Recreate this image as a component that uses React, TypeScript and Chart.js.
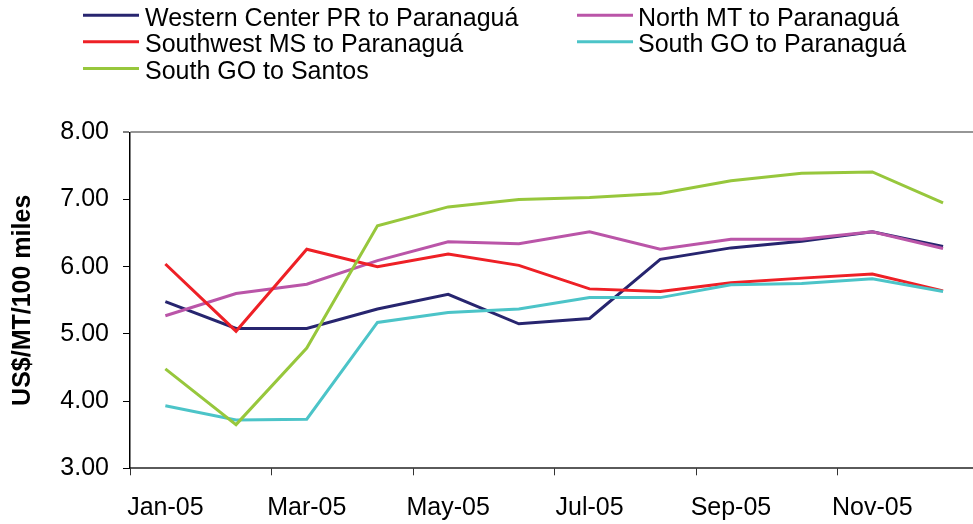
import React, { useEffect, useRef } from 'react';
import { Chart, registerables } from 'chart.js';

Chart.register(...registerables);

const months = ['Jan-05', 'Feb-05', 'Mar-05', 'Apr-05', 'May-05', 'Jun-05', 'Jul-05', 'Aug-05', 'Sep-05', 'Oct-05', 'Nov-05', 'Dec-05'];
const seriesNames = [
  'Western Center PR to Paranaguá',
  'North MT to Paranaguá',
  'Southwest MS to Paranaguá',
  'South GO to Paranaguá',
  'South GO to Santos',
];
const westernCenterPR = [5.48, 5.08, 5.08, 5.37, 5.59, 5.15, 5.23, 6.11, 6.28, 6.38, 6.52, 6.30];
const northMT = [5.27, 5.60, 5.74, 6.09, 6.37, 6.34, 6.52, 6.26, 6.41, 6.41, 6.52, 6.27];
const southwestMS = [6.04, 5.04, 6.26, 6.00, 6.19, 6.02, 5.67, 5.63, 5.76, 5.83, 5.89, 5.64];
const southGOParanagua = [3.93, 3.72, 3.73, 5.17, 5.32, 5.37, 5.54, 5.54, 5.73, 5.75, 5.82, 5.63];
const southGOSantos = [4.48, 3.65, 4.79, 6.61, 6.89, 7.00, 7.03, 7.09, 7.28, 7.39, 7.41, 6.95];
const yMin = 3;
const yMax = 8;
const yStep = 1;
const yTitle = 'US$/MT/100 miles';

const seriesValues = [westernCenterPR, northMT, southwestMS, southGOParanagua, southGOSantos];
const seriesColors = ['#27256F', '#BA55A8', '#EE2026', '#4CC4C8', '#97C73C'];

const FONT = "'Liberation Sans', Arial, sans-serif";

const legendPlugin = {
  id: 'customLegend',
  afterDraw(chart: any) {
    const ctx = chart.ctx;
    ctx.save();
    ctx.font = `25px ${FONT}`;
    ctx.fillStyle = '#000';
    ctx.textBaseline = 'alphabetic';
    ctx.textAlign = 'left';
    chart.data.datasets.forEach((ds: any, i: number) => {
      const col = i % 2;
      const row = Math.floor(i / 2);
      const lx0 = col ? 577 : 83;
      const lx1 = col ? 633 : 139;
      const tx = col ? 638 : 145;
      const base = 25.7 + row * 26.65;
      const ly = base - 10.5;
      ctx.strokeStyle = ds.borderColor;
      ctx.lineWidth = 3;
      ctx.beginPath();
      ctx.moveTo(lx0, ly);
      ctx.lineTo(lx1, ly);
      ctx.stroke();
      ctx.fillText(ds.label, tx, base);
    });
    ctx.restore();
  },
};

// tick marks every second category, placed on category boundaries (Excel style)
const xTickMarksPlugin = {
  id: 'xTickMarks',
  afterDraw(chart: any) {
    const xs = chart.scales.x;
    const ctx = chart.ctx;
    const n = chart.data.labels.length;
    const half = (xs.getPixelForValue(1) - xs.getPixelForValue(0)) / 2;
    const y0 = chart.chartArea.bottom;
    ctx.save();
    ctx.strokeStyle = '#333';
    ctx.lineWidth = 1;
    for (let i = 0; i < n; i += 2) {
      const x = Math.round(xs.getPixelForValue(i) - half) + 0.5;
      ctx.beginPath();
      ctx.moveTo(x, y0);
      ctx.lineTo(x, y0 + 7);
      ctx.stroke();
    }
    ctx.restore();
  },
};

export default function App() {
  const ref = useRef<HTMLCanvasElement | null>(null);

  useEffect(() => {
    if (!ref.current) return;
    const chart = new Chart(ref.current, {
      type: 'line',
      data: {
        labels: months,
        datasets: seriesNames.map((name, i) => ({
          label: name,
          data: seriesValues[i],
          borderColor: seriesColors[i],
          backgroundColor: seriesColors[i],
          borderWidth: 3,
          pointRadius: 0,
          tension: 0,
          fill: false,
          order: seriesNames.length - i,
        })),
      },
      options: {
        responsive: false,
        animation: false,
        layout: { padding: { top: 132.3, right: 1.6, bottom: 0, left: 0 } },
        plugins: {
          legend: { display: false },
          tooltip: { enabled: false },
        },
        scales: {
          x: {
            type: 'category',
            offset: true,
            grid: {
              drawOnChartArea: false,
              drawTicks: true,
              tickLength: 7,
              tickColor: 'rgba(0,0,0,0)',
              color: 'rgba(0,0,0,0)',
            },
            border: { display: true, color: '#5a5a5a', width: 2 },
            ticks: {
              autoSkip: false,
              maxRotation: 0,
              minRotation: 0,
              padding: 18,
              color: '#000',
              font: { family: FONT, size: 25 },
              callback: (_v: any, idx: number) => (idx % 2 === 0 ? months[idx] : ''),
            },
            afterFit: (s: any) => {
              s.height = 55.7;
            },
          },
          y: {
            min: yMin,
            max: yMax,
            grid: {
              drawOnChartArea: true,
              drawTicks: true,
              tickLength: 7,
              color: (c: any) => (c.tick && c.tick.value === yMax ? '#969696' : 'rgba(0,0,0,0)'),
              lineWidth: (c: any) => (c.tick && c.tick.value === yMax ? 2 : 1),
              tickColor: '#000',
              tickWidth: 1,
            },
            border: { display: true, color: '#000', width: 1.5 },
            ticks: {
              stepSize: yStep,
              padding: 14,
              color: '#000',
              font: { family: FONT, size: 25 },
              callback: (v: any) => Number(v).toFixed(2),
            },
            title: {
              display: true,
              text: yTitle,
              color: '#000',
              font: { family: FONT, size: 25, weight: 'bold' },
              padding: { top: 8, bottom: 0 },
            },
            afterFit: (s: any) => {
              s.width = 130;
            },
          },
        },
      },
      plugins: [legendPlugin, xTickMarksPlugin],
    } as any);
    return () => chart.destroy();
  }, []);

  return (
    <div style={{ position: 'fixed', left: 0, top: 0, width: 973, height: 524, overflow: 'hidden', background: '#fff' }}>
      <canvas ref={ref} width={980} height={524} style={{ display: 'block', width: 980, height: 524 }} />
    </div>
  );
}
